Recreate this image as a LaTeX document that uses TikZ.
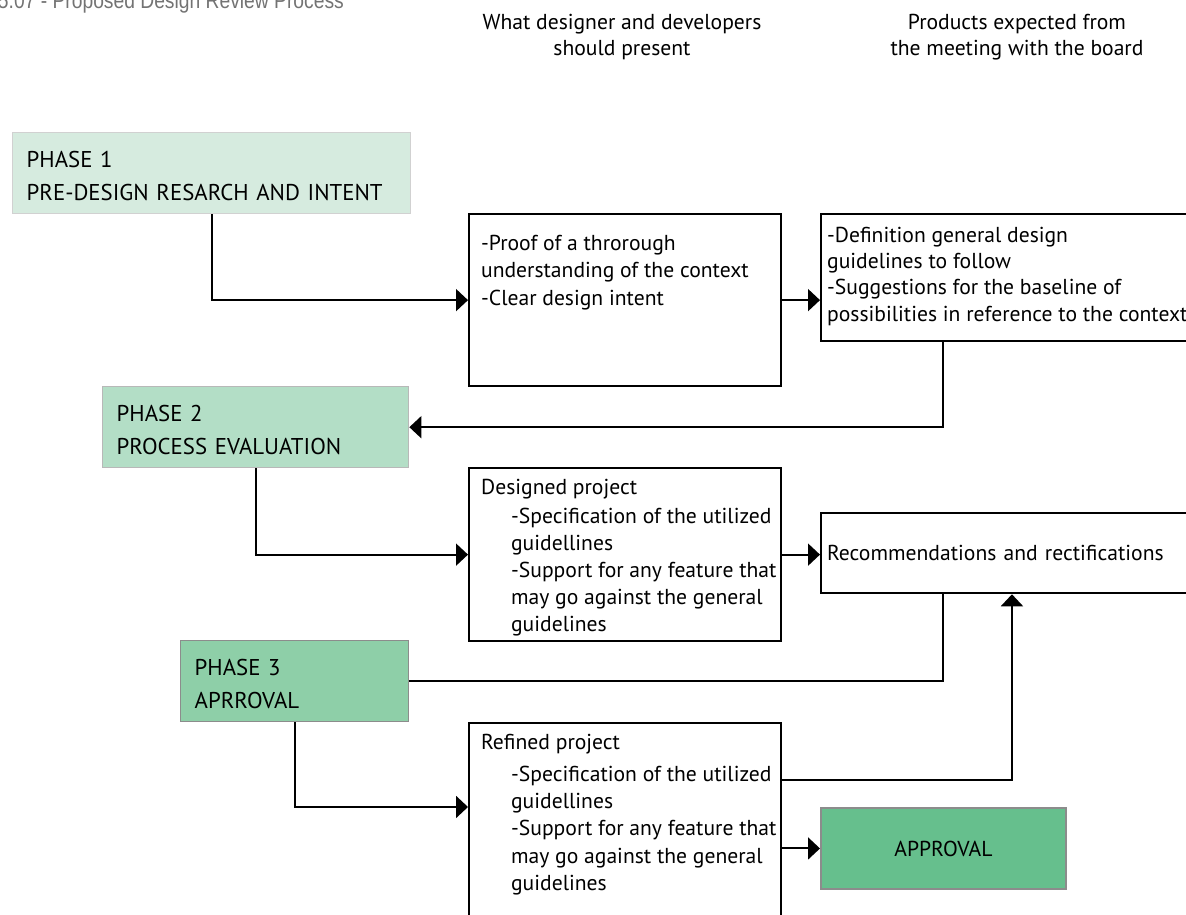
\documentclass[tikz,border=0pt]{standalone}
\usepackage{fontspec}
\setmainfont{PT Sans}
\newfontfamily\titlefont[FakeStretch=0.85]{Liberation Sans}
\usepackage{tikz}
\usetikzlibrary{positioning, arrows.meta}
\definecolor{phaseone}{HTML}{D6EBDF}
\definecolor{phasetwo}{HTML}{B3DEC6}
\definecolor{phasethree}{HTML}{8ECFA8}
\definecolor{approvegreen}{HTML}{66BF8D}
\newcommand{\boxtext}[3]{\parbox[c][#2][t]{#1}{\begin{tabular}[t]{@{}l@{}}#3\end{tabular}}}
\newcommand{\ind}{\hspace*{0.6cm}}
\tikzset{
	phasebox/.style={
		rectangle, anchor=north west,
		draw=black!25, thick,
		minimum height=1.62cm,
		inner xsep=0.28cm,
		align=left,
		font=\fontsize{13}{18.8}\selectfont,
	},
	infobox/.style={
		rectangle, anchor=north west,
		draw=black, line width=1.3pt,
		inner xsep=0.24cm,
		font=\fontsize{12.3}{15}\selectfont,
	},
	headtext/.style={
		align=center,
		font=\fontsize{12.3}{14.8}\selectfont,
	},
}

\begin{document}
\begin{tikzpicture}[x=0.02cm, y=-0.02cm, >={Triangle[length=0.24cm, width=0.44cm]}, line width=1.1pt]
    \useasboundingbox (0,0) rectangle (1186,915);
    \clip (0,0) rectangle (1186,915);

    \node[anchor=base west, text=black!55, font=\titlefont\fontsize{12.9}{14}\selectfont, inner sep=0pt] (title) at (-3,9) {5.07 - Proposed Design Review Process};
    \node[headtext] (present) at (622,37) {What designer and developers\\should present};
    \node[headtext] (products) at (1017,37) {Products expected from\\the meeting with the board};

    % phases
    \node[phasebox, fill=phaseone, draw=black!18, minimum width=7.96cm, text width=7.4cm] (p1) at (12,132) {\rule{0pt}{13pt}PHASE 1\\PRE-DESIGN RESARCH AND INTENT};
    \node[phasebox, fill=phasetwo, draw=black!28, minimum width=6.12cm, text width=5.56cm] (p2) at (102,386) {\rule{0pt}{13pt}PHASE 2\\PROCESS EVALUATION};
    \node[phasebox, fill=phasethree, draw=black!45, minimum width=4.56cm, text width=4cm] (p3) at (180,640) {\rule{0pt}{13pt}PHASE 3\\APRROVAL};

    % what is presented
    \node[infobox, inner ysep=0.33cm, font=\fontsize{12.3}{15.8}\selectfont] (proof) at (468,213) {\boxtext{5.76cm}{2.78cm}{-Proof of a throrough\\understanding of the context\\-Clear design intent}};
    \node[infobox, inner ysep=0.15cm, font=\fontsize{12.3}{15.3}\selectfont] (designed) at (468,467) {\boxtext{5.76cm}{3.16cm}{Designed project\\[1.5pt]
        \ind-Specification of the utilized\\\ind guidellines\\\ind-Support for any feature that\\\ind may go against the general\\\ind guidelines}};
    \node[infobox, inner ysep=0.15cm, font=\fontsize{12.3}{15.5}\selectfont] (refined) at (468,722) {\boxtext{5.76cm}{4.3cm}{Refined project\\[2.5pt]
        \ind-Specification of the utilized\\\ind guidellines\\\ind-Support for any feature that\\\ind may go against the general\\\ind guidelines}};

    % what comes out of the board
    \node[infobox, inner xsep=0.12cm, inner ysep=0.19cm] (guide) at (820,213) {\boxtext{7.36cm}{2.16cm}{-Definition general design\\guidelines to follow\\-Suggestions for the baseline of\\possibilities in reference to the context}};
    \node[infobox, inner xsep=0.12cm, minimum height=1.6cm, text width=7.36cm, align=left] (recommend) at (820,512) {Recommendations and rectifications};
    \node[infobox, fill=approvegreen, draw=black!45, line width=1.1pt, minimum width=4.9cm, minimum height=1.62cm, align=center] (approve) at (820,807) {APPROVAL};

    \draw[->] (p1.south) |- (proof.west);
    \draw[->] (proof.east) -- (proof.east -| guide.west);
    \draw[->] ([xshift=2.46cm]guide.south west) |- (p2.east);
    \draw[->] (p2.south) |- (designed.west);
    \draw[->] (designed.east) -- (designed.east -| recommend.west);
    \draw ([xshift=2.46cm]recommend.south west) |- (p3.east);
    \draw[->] (p3.south) |- ([yshift=-1.7cm]refined.north west);
    \draw[->] ([yshift=-1.16cm]refined.north east) -| ([xshift=3.84cm]recommend.south west);
    \draw[->] (refined.east |- approve.west) -- (approve.west);
\end{tikzpicture}
\end{document}
